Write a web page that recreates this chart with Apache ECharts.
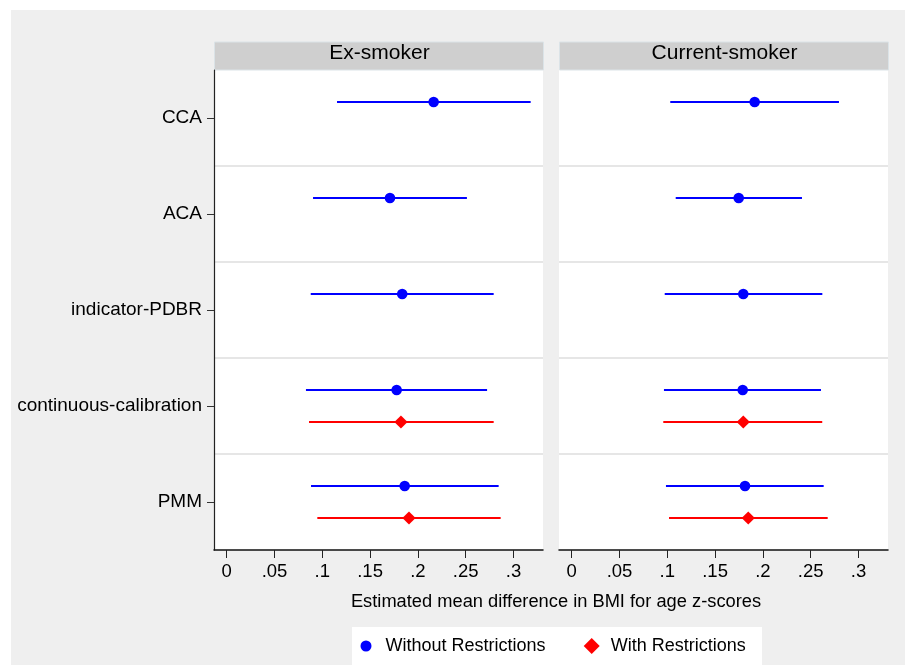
<!DOCTYPE html>
<html>
<head>
<meta charset="utf-8">
<script src="https://cdn.jsdelivr.net/npm/echarts@6/dist/echarts.min.js"></script>
<style>
html,body{margin:0;padding:0;background:#ffffff;}
#chart{position:absolute;left:11px;top:10px;width:894px;height:655px;background:#efefef;}
</style>
</head>
<body>
<div id="chart"></div>
<script>
// ---- data ----
const categories = ['CCA', 'ACA', 'indicator-PDBR', 'continuous-calibration', 'PMM'];
const panels = ['Ex-smoker', 'Current-smoker'];
const seriesNames = ['Without Restrictions', 'With Restrictions'];

const exWithoutEst = [0.2165, 0.1708, 0.1836, 0.1778, 0.1862];
const exWithoutLo  = [0.1154, 0.0903, 0.0879, 0.0829, 0.0882];
const exWithoutHi  = [0.3180, 0.2513, 0.2793, 0.2724, 0.2845];
const exWithEst    = [null, null, null, 0.1823, 0.1907];
const exWithLo     = [null, null, null, 0.0861, 0.0948];
const exWithHi     = [null, null, null, 0.2793, 0.2866];

const curWithoutEst = [0.1914, 0.1747, 0.1795, 0.1789, 0.1813];
const curWithoutLo  = [0.1031, 0.1088, 0.0973, 0.0965, 0.0986];
const curWithoutHi  = [0.2796, 0.2409, 0.2622, 0.2608, 0.2636];
const curWithEst    = [null, null, null, 0.1795, 0.1847];
const curWithLo     = [null, null, null, 0.0958, 0.1018];
const curWithHi     = [null, null, null, 0.2621, 0.2678];

const tickValues = [0, 0.05, 0.1, 0.15, 0.2, 0.25, 0.3];
const tickLabels = ['0', '.05', '.1', '.15', '.2', '.25', '.3'];
const xTitle = 'Estimated mean difference in BMI for age z-scores';

// ---- build ----
const FONT = "'Liberation Sans', Arial, Helvetica, sans-serif";
const BLUE = '#0000ff', RED = '#ff0000';

function rows(est, lo, hi) {
  const out = [];
  for (let i = 0; i < est.length; i++) {
    if (est[i] != null) out.push([i, lo[i], hi[i], est[i]]);
  }
  return out;
}

function makeRender(dir, shape, color) {
  return function (params, api) {
    const cat = api.value(0);
    const lo = api.value(1), hi = api.value(2), est = api.value(3);
    const band = api.size([0, 1])[1];
    const off = dir * band / 6;
    const a = api.coord([lo, cat]);
    const b = api.coord([hi, cat]);
    const e = api.coord([est, cat]);
    const y = a[1] + off;
    const children = [{
      type: 'line',
      shape: { x1: a[0], y1: y, x2: b[0], y2: y },
      style: { stroke: color, lineWidth: 2 }
    }];
    if (shape === 'circle') {
      children.push({ type: 'circle', shape: { cx: e[0], cy: y, r: 5.3 }, style: { fill: color } });
    } else {
      const r = 6.6;
      children.push({ type: 'polygon', shape: { points: [[e[0], y - r], [e[0] + r, y], [e[0], y + r], [e[0] - r, y]] }, style: { fill: color } });
    }
    return { type: 'group', children: children };
  };
}

function fmtTick(v) {
  let best = 0;
  for (let i = 0; i < tickValues.length; i++) {
    if (Math.abs(tickValues[i] - v) < Math.abs(tickValues[best] - v)) best = i;
  }
  return tickLabels[best];
}

const gridW = 329;
const grids = [
  { left: 203, top: 60, width: gridW, height: 480, backgroundColor: '#ffffff', show: true, borderWidth: 0 },
  { left: 548, top: 60, width: gridW, height: 480, backgroundColor: '#ffffff', show: true, borderWidth: 0 }
];

const xAxes = [0, 1].map(i => ({
  type: 'value', gridIndex: i, min: -0.0133, max: 0.3309,
  axisLine: { show: true, onZero: false, lineStyle: { color: '#111', width: 1.5 } },
  axisTick: { show: true, length: 8, customValues: tickValues, lineStyle: { color: '#222', width: 1 } },
  axisLabel: { customValues: tickValues, formatter: fmtTick, margin: 12, fontSize: 18.5, color: '#000', fontFamily: FONT },
  splitLine: { show: false }
}));

const yAxes = [0, 1].map(i => ({
  type: 'category', gridIndex: i, data: categories, inverse: true,
  axisLine: { show: i === 0, onZero: false, lineStyle: { color: '#222', width: 1.2 } },
  axisTick: { show: i === 0, length: 7, alignWithLabel: true, lineStyle: { color: '#333', width: 1 } },
  axisLabel: { show: i === 0, margin: 12, fontSize: 19, color: '#000', fontFamily: FONT, padding: [4, 0, 0, 0] },
  splitLine: { show: true, showMinLine: false, showMaxLine: false, lineStyle: { color: '#e6e6e6', width: 2 } }
}));

const seriesDefs = [
  { g: 0, name: seriesNames[0], data: rows(exWithoutEst, exWithoutLo, exWithoutHi), dir: -1, shape: 'circle', color: BLUE },
  { g: 0, name: seriesNames[1], data: rows(exWithEst, exWithLo, exWithHi), dir: 1, shape: 'diamond', color: RED },
  { g: 1, name: seriesNames[0], data: rows(curWithoutEst, curWithoutLo, curWithoutHi), dir: -1, shape: 'circle', color: BLUE },
  { g: 1, name: seriesNames[1], data: rows(curWithEst, curWithLo, curWithHi), dir: 1, shape: 'diamond', color: RED }
];

const series = seriesDefs.map(s => ({
  type: 'custom', name: s.name, xAxisIndex: s.g, yAxisIndex: s.g,
  data: s.data,
  encode: { x: [1, 2, 3], y: 0 },
  itemStyle: { color: s.color },
  renderItem: makeRender(s.dir, s.shape, s.color),
  clip: false
}));

const stripGraphics = [];
[0, 1].forEach(i => {
  stripGraphics.push({
    type: 'rect', left: grids[i].left, top: 31.5,
    shape: { x: 0, y: 0, width: gridW, height: 28 },
    style: { fill: '#cfcfcf', stroke: '#dbe3e7', lineWidth: 1 }
  });
  stripGraphics.push({
    type: 'text', x: grids[i].left + gridW / 2 + 1, y: 43.3,
    style: { text: panels[i], fill: '#000', font: '21px ' + FONT, textAlign: 'center', textVerticalAlign: 'middle' }
  });
});
stripGraphics.push({
  type: 'text', x: 545, y: 591.5,
  style: { text: xTitle, fill: '#000', font: '18.3px ' + FONT, textAlign: 'center', textVerticalAlign: 'middle' }
});
// legend box
stripGraphics.push({
  type: 'rect', left: 341, top: 617, z: -1,
  shape: { x: 0, y: 0, width: 410, height: 40 },
  style: { fill: '#ffffff' }
});

const option = {
  animation: false,
  backgroundColor: '#efefef',
  grid: grids,
  xAxis: xAxes,
  yAxis: yAxes,
  series: series,
  graphic: stripGraphics,
  legend: [
    {
      data: [{ name: seriesNames[0], icon: 'circle' }],
      left: 341, top: 617, orient: 'horizontal',
      itemWidth: 11, itemHeight: 11,
      padding: [10, 0, 0, 8.5],
      textStyle: { fontSize: 18, color: '#000', fontFamily: FONT, padding: [0, 0, 0, 9] },
      selectedMode: false
    },
    {
      data: [{ name: seriesNames[1], icon: 'diamond' }],
      left: 559, top: 617, orient: 'horizontal',
      itemWidth: 16, itemHeight: 16,
      padding: [10, 0, 0, 13.7],
      textStyle: { fontSize: 18, color: '#000', fontFamily: FONT, padding: [0, 0, 0, 6] },
      selectedMode: false
    }
  ]
};

const chart = echarts.init(document.getElementById('chart'), null, { renderer: 'canvas' });
chart.setOption(option);
</script>
</body>
</html>
